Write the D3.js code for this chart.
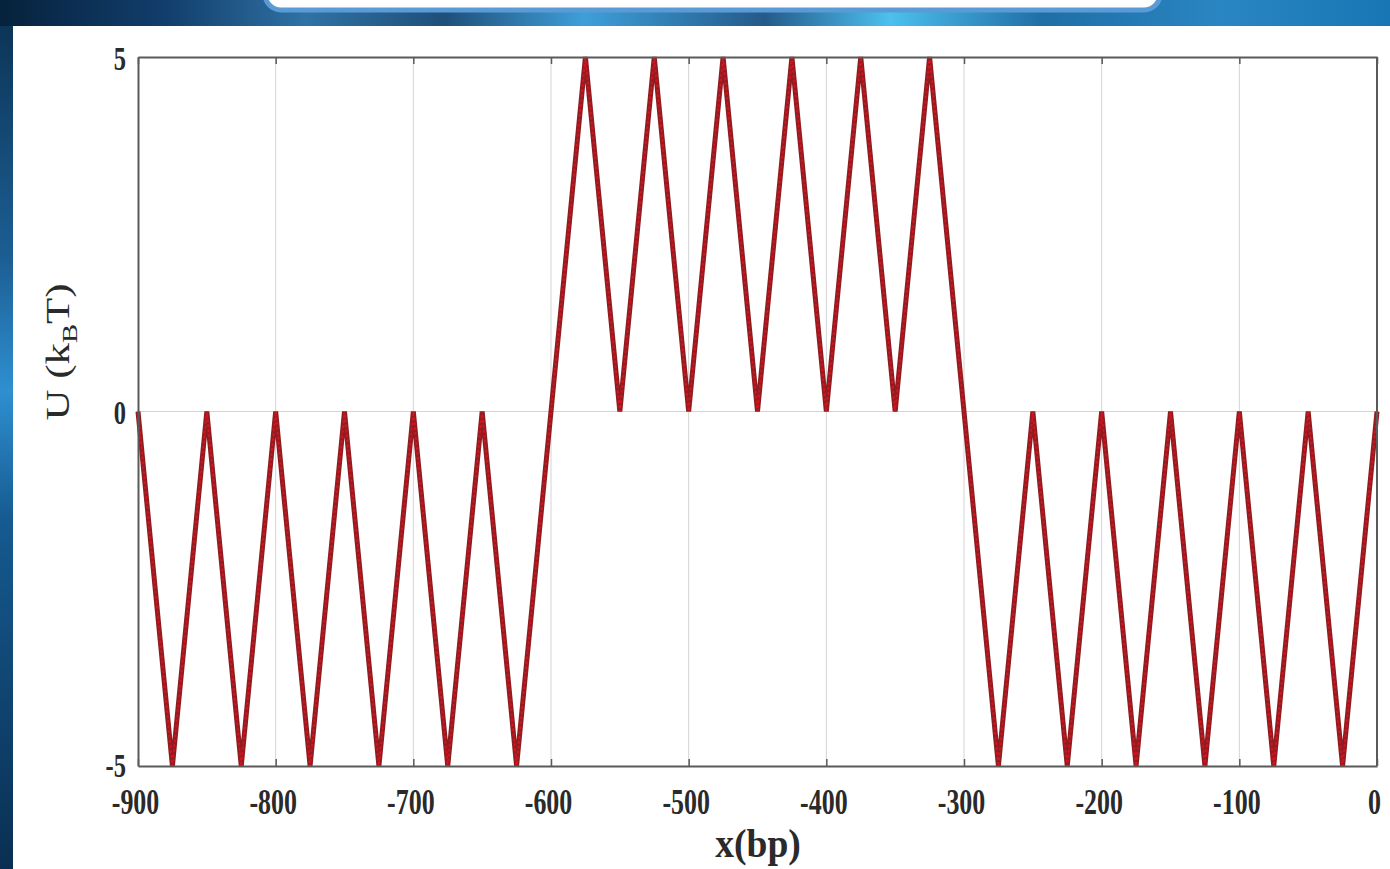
<!DOCTYPE html>
<html>
<head>
<meta charset="utf-8">
<script src="https://cdn.jsdelivr.net/npm/d3@7"></script>
<style>
  html, body { margin: 0; padding: 0; background: #0d3358; }
  svg { display: block; }
</style>
</head>
<body>
<svg width="1390" height="869"></svg>
<script>
// breakpoints of the piecewise-linear potential
const xs = [-900, -875, -850, -825, -800, -775, -750, -725, -700, -675, -650, -625,
            -575, -550, -525, -500, -475, -450, -425, -400, -375, -350, -325,
            -275, -250, -225, -200, -175, -150, -125, -100, -75, -50, -25, 0];
const us = [0, -5, 0, -5, 0, -5, 0, -5, 0, -5, 0, -5,
            5, 0, 5, 0, 5, 0, 5, 0, 5, 0, 5,
            -5, 0, -5, 0, -5, 0, -5, 0, -5, 0, -5, 0];

const xTicks = [-900, -800, -700, -600, -500, -400, -300, -200, -100, 0];
const yTicks = [-5, 0, 5];

const svg = d3.select("svg");
const width = 1390, height = 869;

// plot box
const margin = {left: 138, right: 13, top: 57, bottom: 103};

const x = d3.scaleLinear()
  .domain([-900, 0])
  .range([margin.left, width - margin.right]);

const y = d3.scaleLinear()
  .domain([-5, 5])
  .range([height - margin.bottom, margin.top]);

const serif = "'Liberation Serif', 'Times New Roman', serif";

// blue slide background
const defs = svg.append("defs");
const bg = defs.append("linearGradient").attr("id", "bg")
  .attr("x1", 0).attr("x2", 1).attr("y1", 0).attr("y2", 0);
[["0%", "#06223c"], ["12%", "#123e6c"], ["22%", "#2f72a4"], ["32%", "#1f4f7a"],
 ["42%", "#3e9fd8"], ["55%", "#245a8a"], ["64%", "#4cc0ee"], ["75%", "#1f6ea6"],
 ["88%", "#2a86c2"], ["100%", "#1776b4"]]
  .forEach(s => bg.append("stop").attr("offset", s[0]).attr("stop-color", s[1]));

const side = defs.append("linearGradient").attr("id", "side")
  .attr("x1", 0).attr("x2", 0).attr("y1", 0).attr("y2", 1);
[["0%", "#0b3050"], ["30%", "#1c5f95"], ["45%", "#2f8fd0"], ["60%", "#155a90"], ["100%", "#0a2f52"]]
  .forEach(s => side.append("stop").attr("offset", s[0]).attr("stop-color", s[1]));

svg.append("rect").attr("width", width).attr("height", height).attr("fill", "url(#side)");
svg.append("rect").attr("width", width).attr("height", 26).attr("fill", "url(#bg)");

// rounded title box peeking in at the top
svg.append("rect")
  .attr("x", 265).attr("y", -40).attr("width", 895).attr("height", 50)
  .attr("rx", 16).attr("fill", "#ffffff")
  .attr("stroke", "#5b9bd5").attr("stroke-width", 5);

// white figure panel
svg.append("rect")
  .attr("x", 13).attr("y", 26).attr("width", width - 13).attr("height", height - 26)
  .attr("fill", "#ffffff");

// grid
svg.append("g")
  .selectAll("line")
  .data(xTicks.slice(1, -1))
  .join("line")
  .attr("x1", d => x(d)).attr("x2", d => x(d))
  .attr("y1", y(5)).attr("y2", y(-5))
  .attr("stroke", "#d4d4d4").attr("stroke-width", 1);

svg.append("line")
  .attr("x1", x(-900)).attr("x2", x(0))
  .attr("y1", y(0)).attr("y2", y(0))
  .attr("stroke", "#d4d4d4").attr("stroke-width", 1);

// potential curve
const points = xs.map((d, i) => [d, us[i]]);
const line = d3.line().x(d => x(d[0])).y(d => y(d[1]));

svg.append("path")
  .datum(points)
  .attr("fill", "none")
  .attr("stroke", "#8e1d22")
  .attr("stroke-width", 5)
  .attr("d", line);

svg.append("path")
  .datum(points)
  .attr("fill", "none")
  .attr("stroke", "#d3131d")
  .attr("stroke-width", 2)
  .attr("stroke-dasharray", "3 2")
  .attr("d", line);

// axes
const xAxis = svg.append("g")
  .attr("transform", `translate(0,${y(-5)})`)
  .call(d3.axisBottom(x).tickValues(xTicks).tickSize(-7).tickSizeOuter(0));

const xTop = svg.append("g")
  .attr("transform", `translate(0,${y(5)})`)
  .call(d3.axisTop(x).tickValues(xTicks).tickSize(-7).tickSizeOuter(0).tickFormat(""));

const yAxis = svg.append("g")
  .attr("transform", `translate(${x(-900)},0)`)
  .call(d3.axisLeft(y).tickValues(yTicks).tickSize(0).tickSizeOuter(0));

svg.append("line")
  .attr("x1", x(0)).attr("x2", x(0))
  .attr("y1", y(5)).attr("y2", y(-5))
  .attr("stroke", "#5a5a5a").attr("stroke-width", 2);

[xAxis, xTop, yAxis].forEach(g => {
  g.select(".domain").attr("stroke", "#5a5a5a").attr("stroke-width", 2);
  g.selectAll(".tick line").attr("stroke", "#5a5a5a").attr("stroke-width", 1.5);
});

xAxis.selectAll(".tick text")
  .attr("y", 0).attr("dy", null)
  .attr("transform", "translate(-3,48) scale(0.72,1)")
  .attr("font-family", serif)
  .attr("font-weight", "bold")
  .attr("font-size", 36)
  .attr("fill", "#2a2a2a")
  .text(d => String(d));

yAxis.selectAll(".tick text")
  .attr("x", 0).attr("dy", null)
  .attr("transform", d => `translate(-12,${d === -5 ? 10 : 12}) scale(0.72,1)`)
  .attr("font-family", serif)
  .attr("font-weight", "bold")
  .attr("font-size", 34)
  .attr("fill", "#2a2a2a")
  .text(d => String(d));

// axis titles
svg.append("text")
  .attr("transform", `translate(758,857) scale(0.94,1)`)
  .attr("text-anchor", "middle")
  .attr("font-family", serif)
  .attr("font-weight", "bold")
  .attr("font-size", 40)
  .attr("fill", "#2a2a2a")
  .text("x(bp)");

const yTitle = svg.append("text")
  .attr("transform", `translate(69,352) rotate(-90) scale(1.3,1)`)
  .attr("text-anchor", "middle")
  .attr("font-family", serif)
  .attr("font-size", 33)
  .attr("fill", "#2a2a2a");
yTitle.append("tspan").text("U (k");
yTitle.append("tspan").attr("font-size", 22).attr("dy", 8).text("B");
yTitle.append("tspan").attr("dy", -8).text("T)");
</script>
</body>
</html>
